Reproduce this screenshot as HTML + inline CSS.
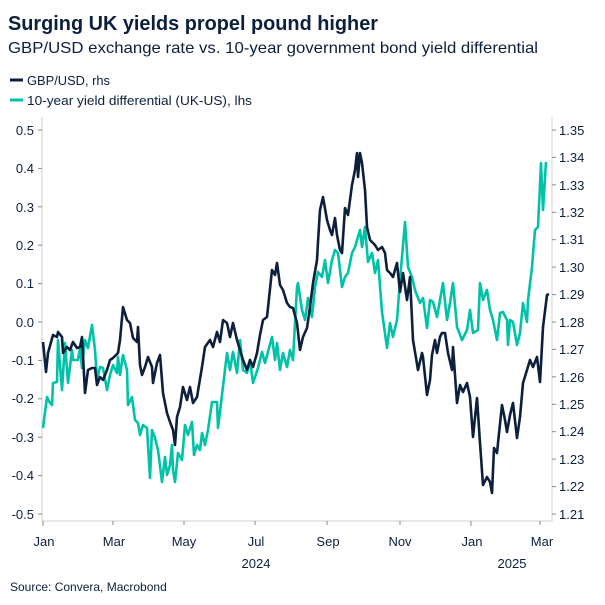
<!DOCTYPE html>
<html><head><meta charset="utf-8"><style>
body{margin:0;background:#fff}
svg{display:block;font-family:"Liberation Sans","DejaVu Sans",sans-serif}
</style></head><body>
<svg width="605" height="605" viewBox="0 0 605 605" xmlns="http://www.w3.org/2000/svg">
<text x="8" y="30" font-size="20" font-weight="bold" fill="#0c1f3d" textLength="370" lengthAdjust="spacingAndGlyphs">Surging UK yields propel pound higher</text>
<text x="8" y="53" font-size="16" fill="#0c1f3d" textLength="530" lengthAdjust="spacingAndGlyphs">GBP/USD exchange rate vs. 10-year government bond yield differential</text>
<line x1="10" y1="80" x2="23" y2="80" stroke="#0c1f3d" stroke-width="3"/>
<text x="27" y="85" font-size="13" fill="#0c1f3d" textLength="83" lengthAdjust="spacingAndGlyphs">GBP/USD, rhs</text>
<line x1="10" y1="100" x2="23" y2="100" stroke="#00c2a8" stroke-width="3"/>
<text x="27" y="105" font-size="13" fill="#0c1f3d" textLength="225" lengthAdjust="spacingAndGlyphs">10-year yield differential (UK-US), lhs</text>
<g stroke="#d0d0d0" stroke-width="1" fill="none">
<polyline points="42,117 42,521 552,521 552,117"/>
</g>
<g stroke="#888" stroke-width="1">
<line x1="38" y1="130" x2="42" y2="130"/><line x1="38" y1="168.4" x2="42" y2="168.4"/><line x1="38" y1="206.8" x2="42" y2="206.8"/><line x1="38" y1="245.2" x2="42" y2="245.2"/><line x1="38" y1="283.6" x2="42" y2="283.6"/><line x1="38" y1="322" x2="42" y2="322"/><line x1="38" y1="360.4" x2="42" y2="360.4"/><line x1="38" y1="398.8" x2="42" y2="398.8"/><line x1="38" y1="437.2" x2="42" y2="437.2"/><line x1="38" y1="475.6" x2="42" y2="475.6"/><line x1="38" y1="514" x2="42" y2="514"/>
<line x1="552" y1="130" x2="556" y2="130"/><line x1="552" y1="157.4" x2="556" y2="157.4"/><line x1="552" y1="184.9" x2="556" y2="184.9"/><line x1="552" y1="212.3" x2="556" y2="212.3"/><line x1="552" y1="239.7" x2="556" y2="239.7"/><line x1="552" y1="267.1" x2="556" y2="267.1"/><line x1="552" y1="294.6" x2="556" y2="294.6"/><line x1="552" y1="322" x2="556" y2="322"/><line x1="552" y1="349.4" x2="556" y2="349.4"/><line x1="552" y1="376.9" x2="556" y2="376.9"/><line x1="552" y1="404.3" x2="556" y2="404.3"/><line x1="552" y1="431.7" x2="556" y2="431.7"/><line x1="552" y1="459.1" x2="556" y2="459.1"/><line x1="552" y1="486.6" x2="556" y2="486.6"/><line x1="552" y1="514" x2="556" y2="514"/>
<line x1="43" y1="521" x2="43" y2="526"/><line x1="113" y1="521" x2="113" y2="525"/><line x1="184" y1="521" x2="184" y2="525"/><line x1="255" y1="521" x2="255" y2="525"/><line x1="327" y1="521" x2="327" y2="525"/><line x1="400" y1="521" x2="400" y2="525"/><line x1="471" y1="521" x2="471" y2="526"/><line x1="540" y1="521" x2="540" y2="525"/>
</g>
<g font-size="13" fill="#0c1f3d" text-anchor="end">
<text x="34" y="135">0.5</text><text x="34" y="173">0.4</text><text x="34" y="212">0.3</text><text x="34" y="250">0.2</text><text x="34" y="288">0.1</text><text x="34" y="327">0.0</text><text x="34" y="365">-0.1</text><text x="34" y="403">-0.2</text><text x="34" y="442">-0.3</text><text x="34" y="480">-0.4</text><text x="34" y="519">-0.5</text>
</g>
<g font-size="13" fill="#0c1f3d">
<text x="559" y="135">1.35</text><text x="559" y="162">1.34</text><text x="559" y="190">1.33</text><text x="559" y="217">1.32</text><text x="559" y="244">1.31</text><text x="559" y="272">1.30</text><text x="559" y="299">1.29</text><text x="559" y="327">1.28</text><text x="559" y="354">1.27</text><text x="559" y="382">1.26</text><text x="559" y="409">1.25</text><text x="559" y="436">1.24</text><text x="559" y="464">1.23</text><text x="559" y="491">1.22</text><text x="559" y="519">1.21</text>
</g>
<g font-size="13" fill="#0c1f3d" text-anchor="middle">
<text x="44" y="546">Jan</text><text x="114" y="546">Mar</text><text x="184" y="546">May</text><text x="256" y="546">Jul</text><text x="328" y="546">Sep</text><text x="400" y="546">Nov</text><text x="472" y="546">Jan</text><text x="542" y="546">Mar</text>
<text x="256" y="568">2024</text><text x="512" y="568">2025</text>
</g>
<text x="10" y="591" font-size="12" fill="#0c1f3d">Source: Convera, Macrobond</text>
<polyline fill="none" stroke="#00c2a8" stroke-width="2.6" stroke-linejoin="round" points="43,428 47,397 50,403 52,405 53,383 57,382 58,340 62,390 65,343 68,383 72,350 73,360 78,360 80,347 82,368 85,340 88,348 92,325 95,350 97,380 100,367 103,368 107,390 110,375 113,365 117,373 118,357 120,375 123,355 127,370 128,405 132,397 135,420 138,423 140,435 143,425 147,428 150,478 152,430 155,438 158,450 162,482 165,457 167,475 170,465 172,445 173,470 175,482 178,453 182,460 185,425 188,435 192,422 194,455 197,445 200,450 202,433 205,445 208,430 212,402 217,402 218,428 222,395 227,353 230,370 233,352 237,373 240,340 243,370 247,373 250,360 253,383 258,368 262,352 265,363 272,337 275,360 277,343 280,370 283,353 287,367 290,350 293,360 297,287 298,283 302,310 305,320 308,298 312,317 315,287 318,272 322,277 325,260 328,283 332,260 335,250 338,253 342,287 345,277 348,273 352,253 355,247 360,230 362,247 365,227 368,262 372,253 375,273 378,260 382,312 387,348 390,323 393,337 397,320 400,280 405,222 408,267 412,277 415,290 420,303 423,298 427,328 430,300 433,302 437,317 440,300 443,283 447,320 450,303 453,283 457,327 462,340 467,330 470,310 473,333 478,330 480,283 483,300 487,290 490,310 493,320 497,340 500,313 503,312 507,320 508,345 510,320 513,322 517,345 520,333 523,303 527,322 528,300 532,267 535,230 538,227 541,163 543,210 546,162"/>
<polyline fill="none" stroke="#0c1f3d" stroke-width="2.6" stroke-linejoin="round" points="43,342 46,372 48,353 53,335 57,337 58,332 62,337 63,353 67,347 70,350 73,342 77,348 80,347 82,337 85,393 88,370 92,368 95,368 97,385 100,377 103,380 107,370 110,360 113,358 118,353 120,340 123,307 127,320 130,323 133,338 137,342 138,327 140,365 142,375 145,367 148,357 152,367 153,383 157,363 160,355 163,393 167,413 170,422 173,430 175,445 177,417 180,407 183,387 187,400 190,387 193,403 197,397 202,367 205,347 210,340 213,347 217,332 220,342 223,320 227,323 230,337 233,323 237,340 240,350 243,360 247,370 250,360 253,367 257,353 260,335 263,320 267,317 272,270 275,275 277,263 280,285 283,290 287,303 290,307 293,308 297,323 300,350 303,337 307,328 310,307 313,283 317,260 318,242 320,210 323,197 327,220 330,230 332,235 335,218 337,235 340,250 342,253 345,208 348,215 352,185 355,170 357,153 358,177 360,153 362,163 365,190 367,227 370,240 375,245 378,250 382,247 385,253 387,270 390,273 393,277 397,263 400,292 403,273 407,300 410,277 413,340 418,370 422,353 423,357 427,395 430,380 432,355 435,340 437,353 440,337 442,333 445,333 448,353 452,370 453,347 457,403 460,385 463,392 467,383 470,397 473,437 477,398 478,413 480,443 483,485 487,477 490,482 492,493 494,448 497,453 498,443 502,405 505,420 507,432 510,415 513,403 517,438 520,417 523,383 527,370 530,360 533,367 537,357 540,382 543,327 547,295 549,294"/>
</svg>
</body></html>
